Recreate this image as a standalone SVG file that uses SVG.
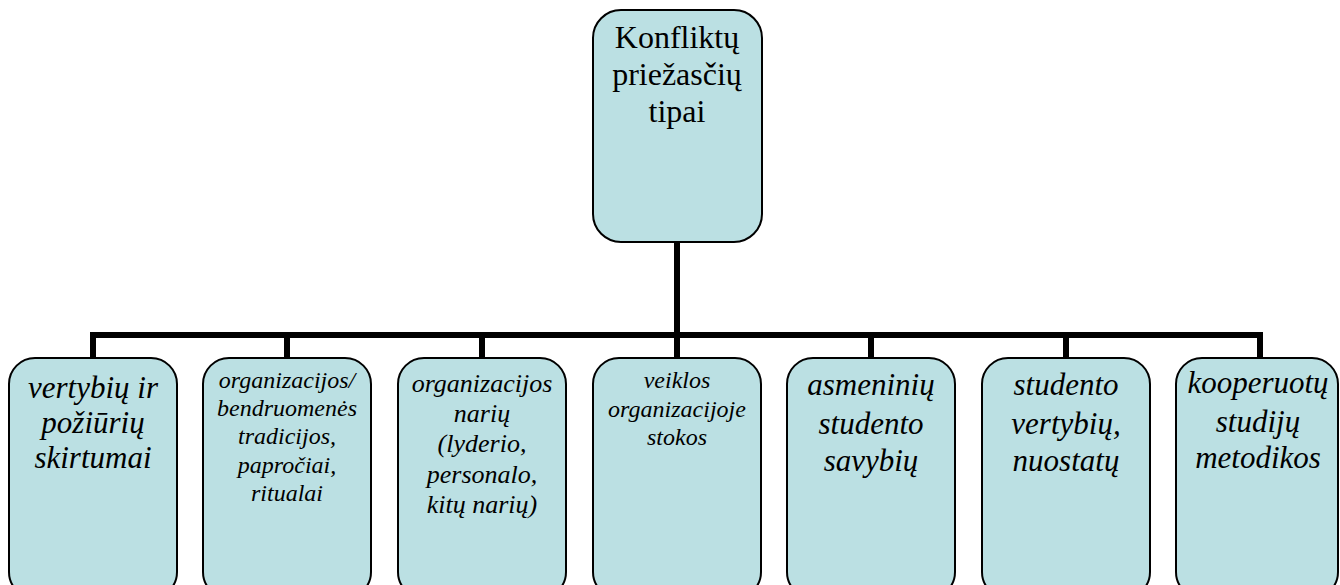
<svg xmlns="http://www.w3.org/2000/svg" width="1340" height="585" viewBox="0 0 1340 585">
  <style>
    .box { fill: #bbe0e3; stroke: #000; stroke-width: 2; }
    .wire { fill: none; stroke: #000; stroke-width: 6; stroke-linecap: square; }
    .label { font-family: 'Liberation Serif', 'Times New Roman', serif; text-anchor: middle; fill: #000; }
    .title { font-size: 32px; }
    .lg { font-size: 31px; font-style: italic; }
    .md { font-size: 26px; font-style: italic; }
    .sm { font-size: 24px; font-style: italic; }
  </style>
  <rect width="1340" height="585" fill="#fff"/>

  <!-- tree connectors: trunk, bus bar and drops -->
  <g id="connectors" class="wire">
    <path d="M677 242 V335"/>
    <path d="M93 358 V335 H1260 V358"/>
    <path d="M287 335 V358"/>
    <path d="M482 335 V358"/>
    <path d="M677 335 V358"/>
    <path d="M871 335 V358"/>
    <path d="M1066 335 V358"/>
  </g>

  <!-- root -->
  <g id="root">
    <rect class="box" x="593" y="10" width="169" height="232" rx="28"/>
    <text class="label title" x="677" y="48">Konfliktų</text>
    <text class="label title" x="677" y="85">priežasčių</text>
    <text class="label title" x="677" y="122">tipai</text>
  </g>

  <!-- children -->
  <g id="n1">
    <rect class="box" x="9" y="358" width="168" height="240" rx="26"/>
    <text class="label lg" x="93" y="398">vertybių ir</text>
    <text class="label lg" x="93" y="433">požiūrių</text>
    <text class="label lg" x="93" y="468">skirtumai</text>
  </g>
  <g id="n2">
    <rect class="box" x="203" y="358" width="168" height="240" rx="26"/>
    <text class="label sm" x="287" y="388">organizacijos/</text>
    <text class="label sm" x="287" y="416">bendruomenės</text>
    <text class="label sm" x="287" y="444">tradicijos,</text>
    <text class="label sm" x="287" y="473">papročiai,</text>
    <text class="label sm" x="287" y="501">ritualai</text>
  </g>
  <g id="n3">
    <rect class="box" x="398" y="358" width="168" height="240" rx="26"/>
    <text class="label md" x="482" y="392">organizacijos</text>
    <text class="label md" x="482" y="422">narių</text>
    <text class="label md" x="482" y="452">(lyderio,</text>
    <text class="label md" x="482" y="483">personalo,</text>
    <text class="label md" x="482" y="513">kitų narių)</text>
  </g>
  <g id="n4">
    <rect class="box" x="593" y="358" width="168" height="240" rx="26"/>
    <text class="label sm" x="677" y="388">veiklos</text>
    <text class="label sm" x="677" y="417">organizacijoje</text>
    <text class="label sm" x="677" y="445">stokos</text>
  </g>
  <g id="n5">
    <rect class="box" x="787" y="358" width="168" height="240" rx="26"/>
    <text class="label lg" x="871" y="395">asmeninių</text>
    <text class="label lg" x="871" y="434">studento</text>
    <text class="label lg" x="871" y="471">savybių</text>
  </g>
  <g id="n6">
    <rect class="box" x="982" y="358" width="168" height="240" rx="26"/>
    <text class="label lg" x="1066" y="395">studento</text>
    <text class="label lg" x="1066" y="434">vertybių,</text>
    <text class="label lg" x="1066" y="471">nuostatų</text>
  </g>
  <g id="n7">
    <rect class="box" x="1176" y="358" width="162" height="240" rx="26"/>
    <text class="label lg" x="1258" y="393">kooperuotų</text>
    <text class="label lg" x="1258" y="432">studijų</text>
    <text class="label lg" x="1258" y="468">metodikos</text>
  </g>
</svg>
